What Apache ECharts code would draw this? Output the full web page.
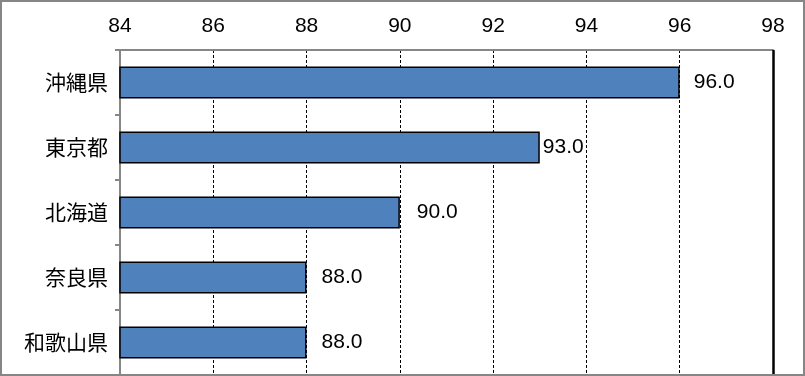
<!DOCTYPE html>
<html>
<head>
<meta charset="utf-8">
<script src="https://cdn.jsdelivr.net/npm/echarts@6/dist/echarts.min.js"></script>
<style>
  html, body { margin: 0; padding: 0; background: #fff; }
  #chart { width: 805px; height: 376px; }
</style>
</head>
<body>
<div id="chart"></div>
<script>
// データ
const prefectures = ['沖縄県', '東京都', '北海道', '奈良県', '和歌山県'];
const rates = [96.0, 93.0, 90.0, 88.0, 88.0];
const axisMin = 84;
const axisMax = 98;
const axisStep = 2;

// ラベルと棒の間隔（元図に合わせる）
const labelGaps = [14, 3, 17, 15, 15];

const jpFont = '"Noto Sans CJK JP", sans-serif';
const numFont = '"Liberation Sans", Arial, sans-serif';

const myChart = echarts.init(document.getElementById('chart'), null, { renderer: 'canvas' });

const option = {
  animation: false,
  backgroundColor: '#ffffff',
  grid: { left: 120, right: 32, top: 50, bottom: 1, containLabel: false },
  graphic: [{
    type: 'rect',
    shape: { x: 1, y: 1, width: 803, height: 374 },
    style: { fill: 'none', stroke: '#868686', lineWidth: 2 },
    z: 100
  }],
  xAxis: {
    type: 'value',
    position: 'top',
    min: axisMin,
    max: axisMax,
    interval: axisStep,
    axisLine: { show: true, lineStyle: { color: '#868686', width: 2 } },
    axisTick: { show: false },
    axisLabel: { color: '#000', fontSize: 21, fontFamily: numFont, margin: 13 },
    splitLine: { show: true, lineStyle: { color: '#000', type: [3, 2], width: 1 } }
  },
  yAxis: {
    type: 'category',
    inverse: true,
    data: prefectures,
    axisLine: { show: true, lineStyle: { color: '#868686', width: 2 } },
    axisTick: { show: true, length: 5, lineStyle: { color: '#868686', width: 2 } },
    axisLabel: { color: '#000', fontSize: 21, fontFamily: jpFont, margin: 12 }
  },
  series: [{
    type: 'bar',
    barWidth: '49%',
    data: rates.map((v, i) => ({
      value: v,
      label: { distance: labelGaps[i] }
    })),
    itemStyle: { color: '#4F81BD', borderColor: '#000', borderWidth: 1.5 },
    label: {
      show: true,
      position: 'right',
      color: '#000',
      fontSize: 21,
      fontFamily: numFont,
      formatter: p => p.value.toFixed(1)
    },
    markLine: {
      silent: true,
      symbol: 'none',
      label: { show: false },
      lineStyle: { color: '#000', type: 'solid', width: 2.5 },
      data: [{ xAxis: axisMax }]
    }
  }]
};

myChart.setOption(option);
</script>
</body>
</html>
